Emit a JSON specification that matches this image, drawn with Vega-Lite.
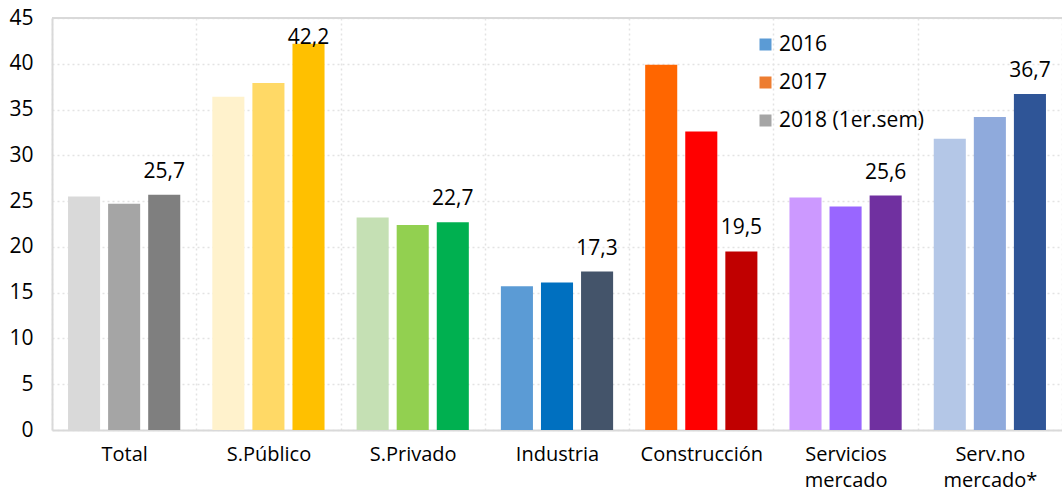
{
  "$schema": "https://vega.github.io/schema/vega-lite/v6.json",
  "autosize": "none",
  "padding": {"left": 52, "top": 18, "right": 0, "bottom": 62},
  "width": 1010,
  "height": 412,
  "config": {
    "view": {"stroke": null},
    "font": "Open Sans",
    "locale": {"number": {"decimal": ",", "thousands": ".", "grouping": [3], "currency": ["", " €"]}}
  },
  "data": {
    "values": [
      {"cat": "Total", "year": "2016", "key": "Total 2016", "value": 25.5},
      {"cat": "Total", "year": "2017", "key": "Total 2017", "value": 24.7},
      {"cat": "Total", "year": "2018 (1er.sem)", "key": "Total 2018", "value": 25.7},
      {"cat": "S.Público", "year": "2016", "key": "S.Público 2016", "value": 36.4},
      {"cat": "S.Público", "year": "2017", "key": "S.Público 2017", "value": 37.9},
      {"cat": "S.Público", "year": "2018 (1er.sem)", "key": "S.Público 2018", "value": 42.2},
      {"cat": "S.Privado", "year": "2016", "key": "S.Privado 2016", "value": 23.2},
      {"cat": "S.Privado", "year": "2017", "key": "S.Privado 2017", "value": 22.4},
      {"cat": "S.Privado", "year": "2018 (1er.sem)", "key": "S.Privado 2018", "value": 22.7},
      {"cat": "Industria", "year": "2016", "key": "Industria 2016", "value": 15.7},
      {"cat": "Industria", "year": "2017", "key": "Industria 2017", "value": 16.1},
      {"cat": "Industria", "year": "2018 (1er.sem)", "key": "Industria 2018", "value": 17.3},
      {"cat": "Construcción", "year": "2016", "key": "Construcción 2016", "value": 39.9},
      {"cat": "Construcción", "year": "2017", "key": "Construcción 2017", "value": 32.6},
      {"cat": "Construcción", "year": "2018 (1er.sem)", "key": "Construcción 2018", "value": 19.5},
      {"cat": "Servicios mercado", "year": "2016", "key": "Servicios mercado 2016", "value": 25.4},
      {"cat": "Servicios mercado", "year": "2017", "key": "Servicios mercado 2017", "value": 24.4},
      {"cat": "Servicios mercado", "year": "2018 (1er.sem)", "key": "Servicios mercado 2018", "value": 25.6},
      {"cat": "Serv.no mercado*", "year": "2016", "key": "Serv.no mercado* 2016", "value": 31.8},
      {"cat": "Serv.no mercado*", "year": "2017", "key": "Serv.no mercado* 2017", "value": 34.2},
      {"cat": "Serv.no mercado*", "year": "2018 (1er.sem)", "key": "Serv.no mercado* 2018", "value": 36.7}
    ]
  },
  "layer": [
    {
      "mark": {"type": "bar"},
      "encoding": {
        "x": {
          "field": "cat",
          "type": "nominal",
          "sort": null,
          "scale": {"paddingInner": 0, "paddingOuter": 0},
          "axis": {
            "title": null,
            "labelAngle": 0,
            "labelFontSize": 20,
            "labelColor": "#000000",
            "labelPadding": 14,
            "ticks": false,
            "tickSize": 0,
            "tickBand": "extent",
            "domainColor": "#D9D9D9",
            "domainWidth": 2,
            "grid": true,
            "gridColor": "#E3E3E3",
            "gridWidth": 1.5,
            "gridDash": [2, 3],
            "labelLineHeight": 26,
            "labelExpr": "split(datum.label, ' ')"
          }
        },
        "xOffset": {"field": "year", "type": "nominal", "scale": {"paddingInner": 0.2, "paddingOuter": 0.4}},
        "y": {
          "field": "value",
          "type": "quantitative",
          "scale": {"domain": [0, 45], "nice": false},
          "axis": {
            "title": null,
            "values": [0, 5, 10, 15, 20, 25, 30, 35, 40, 45],
            "labelFontSize": 21,
            "labelColor": "#000000",
            "labelPadding": 19,
            "ticks": false,
            "tickSize": 0,
            "domainColor": "#D9D9D9",
            "domainWidth": 2,
            "grid": true,
            "gridColor": "#E3E3E3",
            "gridWidth": 1.5,
            "gridDash": [2, 3]
          }
        },
        "color": {
          "field": "key",
          "type": "nominal",
          "legend": null,
          "scale": {
            "domain": ["Total 2016", "Total 2017", "Total 2018", "S.Público 2016", "S.Público 2017", "S.Público 2018", "S.Privado 2016", "S.Privado 2017", "S.Privado 2018", "Industria 2016", "Industria 2017", "Industria 2018", "Construcción 2016", "Construcción 2017", "Construcción 2018", "Servicios mercado 2016", "Servicios mercado 2017", "Servicios mercado 2018", "Serv.no mercado* 2016", "Serv.no mercado* 2017", "Serv.no mercado* 2018"],
            "range": ["#D9D9D9", "#A5A5A5", "#7F7F7F", "#FFF2CC", "#FFD966", "#FFC000", "#C5E0B4", "#92D050", "#00B050", "#5B9BD5", "#0070C0", "#44546A", "#FF6600", "#FF0000", "#C00000", "#CC99FF", "#9966FF", "#7030A0", "#B4C7E7", "#8FAADC", "#2F5597"]
          }
        }
      }
    },
    {
      "mark": {"type": "rule", "color": "#D9D9D9", "strokeWidth": 2},
      "encoding": {"y": {"datum": 45, "type": "quantitative"}}
    },
    {
      "transform": [{"filter": "datum.year == '2018 (1er.sem)' && datum.value <= 40"}],
      "mark": {"type": "text", "fontSize": 21, "color": "#000000", "baseline": "alphabetic", "dy": -17},
      "encoding": {
        "x": {"field": "cat", "type": "nominal", "sort": null},
        "xOffset": {"field": "year", "type": "nominal"},
        "y": {"field": "value", "type": "quantitative"},
        "text": {"field": "value", "type": "quantitative", "format": ".1f"}
      }
    },
    {
      "transform": [{"filter": "datum.year == '2018 (1er.sem)' && datum.value > 40"}],
      "mark": {"type": "text", "fontSize": 21, "color": "#000000", "baseline": "alphabetic", "dy": 0},
      "encoding": {
        "x": {"field": "cat", "type": "nominal", "sort": null},
        "xOffset": {"field": "year", "type": "nominal"},
        "y": {"field": "value", "type": "quantitative"},
        "text": {"field": "value", "type": "quantitative", "format": ".1f"}
      }
    },
    {
      "transform": [{"filter": "datum.cat == 'Total'"}],
      "mark": {"type": "bar"},
      "encoding": {
        "x": {"field": "cat", "type": "nominal", "sort": null},
        "xOffset": {"field": "year", "type": "nominal"},
        "y": {"datum": 0, "type": "quantitative"},
        "color": {
          "field": "year",
          "type": "nominal",
          "scale": {"domain": ["2016", "2017", "2018 (1er.sem)"], "range": ["#5B9BD5", "#ED7D31", "#A5A5A5"]},
          "legend": {
            "title": null,
            "orient": "none",
            "legendX": 703,
            "legendY": 16,
            "direction": "vertical",
            "padding": 0,
            "symbolType": "square",
            "symbolSize": 144,
            "symbolStrokeWidth": 0,
            "labelFontSize": 21,
            "labelColor": "#000000",
            "labelOffset": 3,
            "rowPadding": 16
          }
        }
      }
    }
  ],
  "resolve": {"scale": {"color": "independent"}}
}
